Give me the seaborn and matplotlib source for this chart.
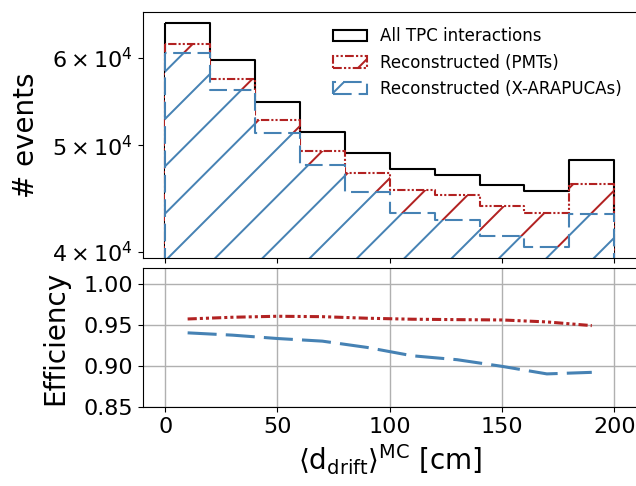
import matplotlib
matplotlib.use("Agg")
import matplotlib.pyplot as plt
import seaborn as sns

# binning in drift distance [cm]
bin_edges = [0, 20, 40, 60, 80, 100, 120, 140, 160, 180, 200]
bin_centers = [10, 30, 50, 70, 90, 110, 130, 150, 170, 190]

# events per bin
all_tpc = [64530, 59750, 54770, 51450, 49240, 47590, 47030, 45990, 45450, 48500]
reco_pmt = [61820, 57400, 52720, 49440, 47170, 45550, 45050, 44000, 43390, 46090]
reco_xa = [60670, 56130, 51270, 47990, 45360, 43440, 42790, 41380, 40460, 43300]

# efficiency per bin
eff_pmt = [0.9576, 0.9597, 0.9609, 0.9604, 0.9585, 0.9573, 0.9568, 0.9564, 0.9540, 0.9495]
eff_xa = [0.9407, 0.9379, 0.9338, 0.9306, 0.9229, 0.9128, 0.9080, 0.8999, 0.8907, 0.8926]

labels = ["All TPC interactions", "Reconstructed (PMTs)", "Reconstructed (X-ARAPUCAs)"]
red = "#b22222"
blue = "#4682b4"

# raised dpi so the hatch spacing comes out wide; sizes scaled back to look like 100 dpi
DPI = 142.5
s = 100 / DPI

sns.set_style("ticks", rc={"text.color": "black", "axes.labelcolor": "black",
                           "xtick.color": "black", "ytick.color": "black",
                           "axes.edgecolor": "black"})
plt.rcParams.update({
    "hatch.linewidth": 1.0,
    "axes.linewidth": 0.8 * s,
    "xtick.major.width": 0.8 * s, "ytick.major.width": 0.8 * s,
    "xtick.minor.width": 0.8 * s, "ytick.minor.width": 0.8 * s,
    "xtick.major.size": 3.5 * s, "ytick.major.size": 3.5 * s,
    "xtick.minor.size": 3.5 * s, "ytick.minor.size": 3.5 * s,
    "xtick.major.pad": 3.5 * s, "ytick.major.pad": 3.5 * s,
    "ytick.minor.pad": 3.5 * s,
    "xtick.labelsize": 16 * s, "ytick.labelsize": 16 * s,
    "axes.labelsize": 20 * s, "axes.labelpad": 4 * s,
})

fig = plt.figure(figsize=(636 / DPI, 486 / DPI), dpi=DPI)
ax1 = fig.add_axes([0.2244, 0.4698, 0.7767, 0.5049])
ax2 = fig.add_axes([0.2244, 0.1619, 0.7767, 0.2872])

lw = 1.5 * s
sns.histplot(x=bin_centers, weights=all_tpc, bins=bin_edges, element="step", fill=True,
             color="black", facecolor="none", edgecolor="black", linewidth=lw,
             label=labels[0], ax=ax1)
sns.histplot(x=bin_centers, weights=reco_pmt, bins=bin_edges, element="step", fill=True,
             color=red, facecolor="none", edgecolor=red, linewidth=lw, hatch="/",
             linestyle=(0, (4, 1, 1, 1, 1, 1)), label=labels[1], ax=ax1)
# white face hides the red hatch underneath the blue one
sns.histplot(x=bin_centers, weights=reco_xa, bins=bin_edges, element="step", fill=True,
             color=blue, facecolor="white", edgecolor=blue, linewidth=lw, hatch="/",
             linestyle=(0, (8.5, 3.2)), label=labels[2], ax=ax1)
ax1.set_yscale("log")
ax1.set_ylim(39530, 66020)
ax1.set_xlim(-10, 210)
ax1.set_xticks([0, 50, 100, 150, 200])
ax1.tick_params(labelbottom=False)
ax1.set_xlabel("")
ax1.set_ylabel("# events", labelpad=9 * s)
ax1.legend(loc="upper right", frameon=False, fontsize=12 * s)

elw = 2.2 * s
sns.lineplot(x=bin_centers, y=eff_pmt, color=red, linewidth=elw,
             linestyle=(0, (3, 1, 1, 1, 1, 1)), ax=ax2)
sns.lineplot(x=bin_centers, y=eff_xa, color=blue, linewidth=elw,
             linestyle=(0, (9.5, 3)), ax=ax2)
ax2.set_xlim(-10, 210)
ax2.set_ylim(0.85, 1.02)
ax2.set_xticks([0, 50, 100, 150, 200])
ax2.set_yticks([0.85, 0.90, 0.95, 1.00])
ax2.set_yticklabels(["0.85", "0.90", "0.95", "1.00"])
ax2.grid(True, color="#b0b0b0", linewidth=1.0 * s)
ax2.set_xlabel(r"$\langle \mathrm{d_{drift}} \rangle^{\mathrm{MC}}$ [cm]")
ax2.set_ylabel("Efficiency", labelpad=10 * s)

fig.savefig("out.png", dpi=DPI)
